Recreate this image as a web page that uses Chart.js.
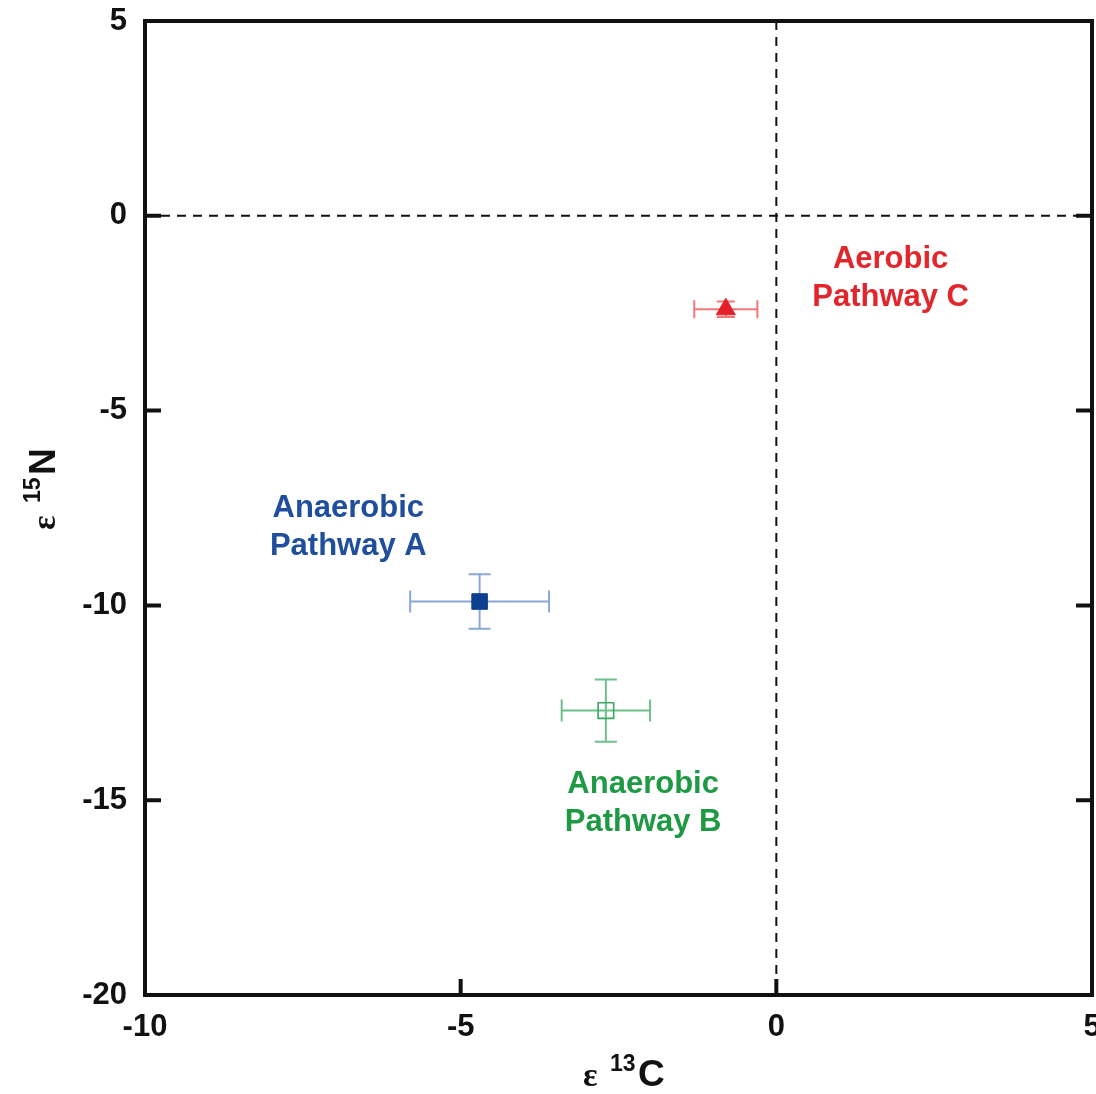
<!DOCTYPE html>
<html>
<head>
<meta charset="utf-8">
<script src="https://cdn.jsdelivr.net/npm/chart.js@4/dist/chart.umd.min.js"></script>
<style>
  html, body { margin: 0; padding: 0; background: #fff; }
  canvas { display: block; }
</style>
</head>
<body>
<canvas id="isoChart" width="1096" height="1094"></canvas>
<script>
// isotope enrichment factors per pathway
const pathways = ['Anaerobic Pathway A', 'Anaerobic Pathway B', 'Aerobic Pathway C'];
const epsC13 = [-4.7, -2.7, -0.8];
const epsN15 = [-9.9, -12.7, -2.4];
const errC13 = [1.1, 0.7, 0.5];
const errN15 = [0.7, 0.8, 0.2];

const xTicks = [-10, -5, 0, 5];
const yTicks = [-20, -15, -10, -5, 0, 5];

// text labels: two lines each, centred on a data point
const labelLines = [['Anaerobic', 'Pathway A'], ['Anaerobic', 'Pathway B'], ['Aerobic', 'Pathway C']];
const labelX = [-6.78, -2.11, 1.81];
const labelY = [-8.0, -15.08, -1.62];

const markColor = ['#0d3f8f', '#3aa863', '#e3202a'];
const barColor = ['#8aa8d6', '#6cc08c', '#f07878'];
const textColor = ['#1f4e9c', '#1e9a44', '#e3262c'];

const FONT = '"Liberation Sans", Arial, sans-serif';

const canvas = document.getElementById('isoChart');
const ctx = canvas.getContext('2d');

const datasets = pathways.map((name, i) => ({
    label: name,
    data: [{ x: epsC13[i], y: epsN15[i] }],
    pointStyle: i === 2 ? 'triangle' : 'rect',
    pointRadius: 11,
    pointBorderWidth: i === 1 ? 1.6 : 1,
    borderColor: markColor[i],
    backgroundColor: i === 1 ? 'rgba(0,0,0,0)' : markColor[i]
}));

const framePlugin = {
    id: 'frame',
    beforeDatasetsDraw(chart) {
        const { ctx, chartArea: a, scales: { x, y } } = chart;
        ctx.save();
        // dashed zero lines
        ctx.strokeStyle = '#111';
        ctx.lineWidth = 2;
        ctx.setLineDash([9, 7]);
        const x0 = x.getPixelForValue(0), y0 = y.getPixelForValue(0);
        ctx.beginPath();
        ctx.moveTo(a.left, y0); ctx.lineTo(a.right, y0);
        ctx.moveTo(x0, a.top); ctx.lineTo(x0, a.bottom);
        ctx.stroke();
        ctx.setLineDash([]);

        // error bars with caps
        pathways.forEach((_, i) => {
            const px = x.getPixelForValue(epsC13[i]);
            const py = y.getPixelForValue(epsN15[i]);
            const xl = x.getPixelForValue(epsC13[i] - errC13[i]);
            const xr = x.getPixelForValue(epsC13[i] + errC13[i]);
            const yt = y.getPixelForValue(epsN15[i] + errN15[i]);
            const yb = y.getPixelForValue(epsN15[i] - errN15[i]);
            const c = i === 2 ? 9 : 11;
            ctx.strokeStyle = barColor[i];
            ctx.lineWidth = 2;
            ctx.beginPath();
            ctx.moveTo(xl, py); ctx.lineTo(xr, py);
            ctx.moveTo(xl, py - c); ctx.lineTo(xl, py + c);
            ctx.moveTo(xr, py - c); ctx.lineTo(xr, py + c);
            ctx.moveTo(px, yt); ctx.lineTo(px, yb);
            ctx.moveTo(px - c, yt); ctx.lineTo(px + c, yt);
            ctx.moveTo(px - c, yb); ctx.lineTo(px + c, yb);
            ctx.stroke();
        });
        ctx.restore();
    },
    afterDatasetsDraw(chart) {
        const { ctx, chartArea: a, scales: { x, y } } = chart;
        ctx.save();
        // frame and inward ticks (left, right, bottom)
        ctx.strokeStyle = '#111';
        ctx.lineWidth = 4;
        ctx.strokeRect(a.left, a.top, a.right - a.left, a.bottom - a.top);
        const tl = 16;
        ctx.beginPath();
        yTicks.forEach(v => {
            const py = y.getPixelForValue(v);
            ctx.moveTo(a.left, py); ctx.lineTo(a.left + tl, py);
            ctx.moveTo(a.right, py); ctx.lineTo(a.right - tl, py);
        });
        xTicks.forEach(v => {
            const px = x.getPixelForValue(v);
            ctx.moveTo(px, a.bottom); ctx.lineTo(px, a.bottom - tl);
        });
        ctx.stroke();

        // pathway labels
        ctx.font = 'bold 31px ' + FONT;
        ctx.textAlign = 'center';
        ctx.textBaseline = 'middle';
        labelLines.forEach((lines, i) => {
            const cx = x.getPixelForValue(labelX[i]);
            const cy = y.getPixelForValue(labelY[i]);
            ctx.fillStyle = textColor[i];
            ctx.fillText(lines[0], cx, cy - 19);
            ctx.fillText(lines[1], cx, cy + 19);
        });

        // axis titles with superscripts
        ctx.fillStyle = '#111';
        ctx.textAlign = 'left';
        ctx.textBaseline = 'alphabetic';
        drawIsoTitle(ctx, 583, 1086, '13', 'C');
        ctx.translate(55, 530);
        ctx.rotate(-Math.PI / 2);
        drawIsoTitle(ctx, 0, 0, '15', 'N');
        ctx.restore();
    }
};

function drawIsoTitle(ctx, x0, y0, sup, letter) {
    ctx.font = 'bold 34px "Liberation Serif", "DejaVu Serif", serif';
    ctx.fillText('\u03b5', x0, y0);
    ctx.font = 'bold 23px ' + FONT;
    ctx.fillText(sup, x0 + 27, y0 - 15);
    ctx.font = 'bold 37px ' + FONT;
    ctx.fillText(letter, x0 + 55, y0);
}

const tickFont = { family: FONT, size: 31, weight: 'bold' };

const chart = new Chart(ctx, {
    type: 'scatter',
    data: { datasets },
    options: {
        responsive: false,
        animation: false,
        layout: { autoPadding: false, padding: { top: 21, right: 4, left: 0, bottom: 0 } },
        plugins: { legend: { display: false }, tooltip: { enabled: false } },
        scales: {
            x: {
                type: 'linear',
                min: -10, max: 5,
                afterBuildTicks: s => { s.ticks = xTicks.map(v => ({ value: v })); },
                afterFit: s => { s.height = 99; s.paddingLeft = 0; s.paddingRight = 0; },
                grid: { display: false, drawTicks: false },
                border: { display: false },
                ticks: { color: '#111', font: tickFont, padding: 14, maxRotation: 0 }
            },
            y: {
                type: 'linear',
                min: -20, max: 5,
                afterBuildTicks: s => { s.ticks = yTicks.map(v => ({ value: v })); },
                afterFit: s => { s.width = 145; s.paddingTop = 0; s.paddingBottom = 0; },
                grid: { display: false, drawTicks: false },
                border: { display: false },
                ticks: { color: '#111', font: tickFont, padding: 18 }
            }
        }
    },
    plugins: [framePlugin]
});
</script>
</body>
</html>
